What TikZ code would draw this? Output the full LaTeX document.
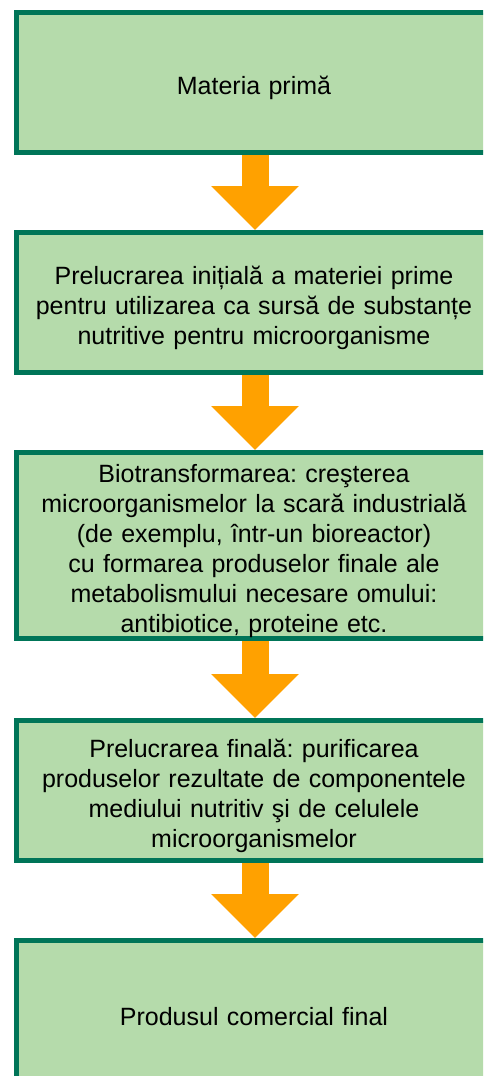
\documentclass[tikz,border=0pt]{standalone}
\usepackage{fontspec}
\setmainfont{Liberation Sans}
\usetikzlibrary{positioning, arrows.meta}

\definecolor{boxline}{RGB}{0,117,88}
\definecolor{boxfill}{RGB}{181,219,171}
\definecolor{flow}{RGB}{255,161,0}

\begin{document}
\begin{tikzpicture}[
    x=1pt, y=1pt,
    node distance = 75pt,
    box/.style = {rectangle, draw=boxline, fill=boxfill, line width=5pt, align=center,
                  minimum width=475pt, minimum height=140pt, inner sep=0pt,
                  text width=470pt, text height=30pt,
                  font=\fontsize{25}{30}\selectfont\frenchspacing},
    arrow/.style = {flow, line width=27pt, -{Triangle[width=85pt, length=44pt]}}
]
    \useasboundingbox (0,0) rectangle (483,-1076);
    \clip (0,0) rectangle (483,-1076);

    \node[box] at (254,-82.5) (RAW) {Materia primă};
    \node[box, below=of RAW] (PRE) {Prelucrarea inițială a materiei prime\\
        pentru utilizarea ca sursă de substanțe\\nutritive pentru microorganisme};
    \node[box, below=of PRE, minimum height=186pt] (BIO) {Biotransformarea: creşterea\\
        microorganismelor la scară industrială\\(de exemplu, într-un bioreactor)\\
        cu formarea produselor finale ale\\metabolismului necesare omului:\\
        antibiotice, proteine etc.};
    \node[box, below=77pt of BIO] (FIN) {Prelucrarea finală: purificarea\\
        produselor rezultate de componentele\\mediului nutritiv şi de celulele\\
        microorganismelor};
    \node[box, below=of FIN] (PROD) {Produsul comercial final};

    \draw[arrow] ([xshift=1pt]RAW.south) -- ([xshift=1pt]PRE.north);
    \draw[arrow] ([xshift=1pt]PRE.south) -- ([xshift=1pt]BIO.north);
    \draw[arrow] ([xshift=1pt]BIO.south) -- ([xshift=1pt]FIN.north);
    \draw[arrow] ([xshift=1pt]FIN.south) -- ([xshift=1pt]PROD.north);
\end{tikzpicture}
\end{document}
